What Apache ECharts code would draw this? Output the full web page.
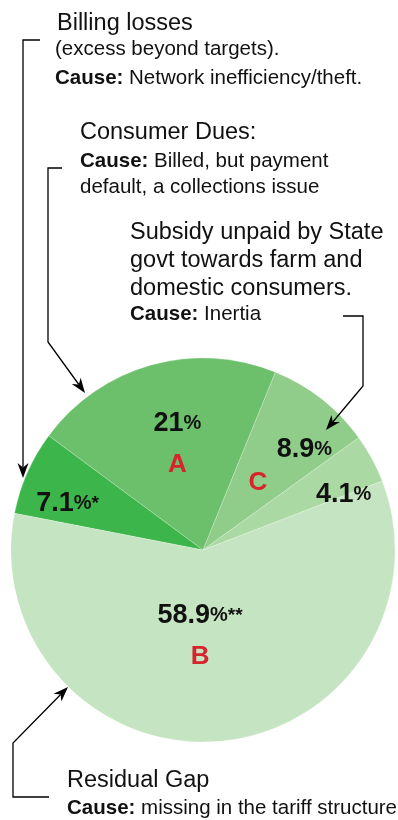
<!DOCTYPE html>
<html>
<head>
<meta charset="utf-8">
<script src="https://cdn.jsdelivr.net/npm/echarts@6/dist/echarts.min.js"></script>
<style>
html, body { margin: 0; padding: 0; background: #fff; }
#main { width: 398px; height: 820px; }
</style>
</head>
<body>
<div id="main"></div>
<script>
// slices, clockwise from the left edge
var names = ['Billing losses', 'Consumer Dues', 'Subsidy unpaid', 'Other', 'Residual Gap'];
var shares = [7.1, 21, 8.9, 4.1, 58.9];
var marks = ['*', '', '', '', '**'];
var letters = ['', 'A', 'C', '', 'B'];

var palette = ['#3cb64b', '#6cc06b', '#91cd8a', '#abd9a3', '#c5e4c1'];
var font = '"Liberation Sans", Arial, Helvetica, sans-serif';
var ink = '#111';
var center = [203, 550];
var R = 192;
var start = 169;

var chart = echarts.init(document.getElementById('main'), null, { renderer: 'canvas' });

var rich = {
	n: { fontFamily: font, fontWeight: 'bold', fontSize: 27, color: ink, lineHeight: 41 },
	p: { fontFamily: font, fontWeight: 'bold', fontSize: 20, color: ink, lineHeight: 41 },
	s: { fontFamily: font, fontWeight: 'bold', fontSize: 19, color: ink, lineHeight: 41 },
	l: { fontFamily: font, fontWeight: 'bold', fontSize: 26, color: '#d7242c', lineHeight: 41 }
};

function pct(i) {
	return '{n|' + shares[i] + '}{p|%}' + (marks[i] ? '{s|' + marks[i] + '}' : '');
}

// transparent pies used only to place labels at a given radius / angle
function labelLayer(inner, angle, pick) {
	return {
		type: 'pie',
		center: center,
		radius: [inner, R],
		startAngle: angle,
		silent: true,
		animation: false,
		itemStyle: { color: 'rgba(0,0,0,0)', borderWidth: 0 },
		labelLine: { show: false },
		emphasis: { disabled: true },
		label: {
			show: true,
			position: 'inside',
			rich: rich,
			formatter: function(p) { return pick(p.dataIndex) || ''; }
		},
		data: shares.map(function(v, i) { return { name: names[i], value: v }; })
	};
}

var series = [{
	type: 'pie',
	center: center,
	radius: [0, R],
	startAngle: start,
	silent: true,
	animation: false,
	label: { show: false },
	labelLine: { show: false },
	emphasis: { disabled: true },
	itemStyle: { borderColor: 'rgba(255,255,255,0.35)', borderWidth: 0.6 },
	data: shares.map(function(v, i) {
		return { name: names[i], value: v, itemStyle: { color: palette[i] } };
	})
},
	labelLayer(88, 174, function(i) { return i === 0 ? pct(i) : ''; }),
	labelLayer(88, 162, function(i) { return i === 2 ? pct(i) : ''; }),
	labelLayer(104, 162, function(i) { return i === 3 ? pct(i) : ''; }),
	labelLayer(20, 167, function(i) { return i === 1 ? pct(i) + '\n{l|' + letters[i] + '}' : ''; }),
	labelLayer(-26, 162, function(i) { return i === 4 ? pct(i) + '\n{l|' + letters[i] + '}' : ''; }),
	labelLayer(-24, 168, function(i) { return i === 2 ? '{l|' + letters[i] + '}' : ''; })
];

// ---- annotations ----
var graphics = [];

function text(x, y, str, size) {
	graphics.push({
		type: 'text',
		silent: true,
		z: 20,
		style: {
			x: x, y: y, text: str,
			fontFamily: font, fontSize: size, fill: ink,
			verticalAlign: 'middle',
			rich: {
				b: { fontFamily: font, fontSize: size, fontWeight: 'bold', fill: ink },
				r: { fontFamily: font, fontSize: size, fill: ink }
			}
		}
	});
}

function leader(pts) {
	var n = pts.length, a = pts[n - 2], b = pts[n - 1];
	var dx = b[0] - a[0], dy = b[1] - a[1];
	var d = Math.sqrt(dx * dx + dy * dy);
	var ux = dx / d, uy = dy / d;
	var L = 15, W = 5.5;
	var bx = b[0] - ux * L, by = b[1] - uy * L;
	var nx = b[0] - ux * L * 0.7, ny = b[1] - uy * L * 0.7;
	var line = pts.slice(0, n - 1).concat([[nx, ny]]);
	graphics.push({
		type: 'polyline', silent: true, z: 20,
		shape: { points: line },
		style: { stroke: '#000', lineWidth: 1.3, fill: null }
	});
	graphics.push({
		type: 'polygon', silent: true, z: 20,
		shape: { points: [b, [bx - uy * W, by + ux * W], [nx, ny], [bx + uy * W, by - ux * W]] },
		style: { fill: '#000' }
	});
}

text(57, 24, 'Billing losses', 23.5);
text(55, 49, '(excess beyond targets).', 20.5);
text(55, 78, '{b|Cause:} {r|Network inefficiency/theft.}', 20.5);

text(80, 133, 'Consumer Dues:', 23.5);
text(80, 161, '{b|Cause:} {r|Billed, but payment}', 20.5);
text(80, 187, 'default, a collections issue', 20.5);

text(130, 233, 'Subsidy unpaid by State', 23.5);
text(130, 261, 'govt towards farm and', 23.5);
text(130, 289, 'domestic consumers.', 23.5);
text(130, 314, '{b|Cause:} {r|Inertia}', 20.5);

text(67, 781, 'Residual Gap', 23.5);
text(67, 808, '{b|Cause:} {r|missing in the tariff structure}', 20.5);

leader([[40, 40], [23, 40], [23, 478]]);
leader([[62, 168], [48, 168], [48, 342], [85, 393]]);
leader([[343, 316], [363, 316], [363, 386], [326, 430]]);
leader([[49, 797], [13, 797], [13, 743], [68, 687]]);

chart.setOption({
	backgroundColor: '#fff',
	animation: false,
	series: series,
	graphic: graphics
});
</script>
</body>
</html>
